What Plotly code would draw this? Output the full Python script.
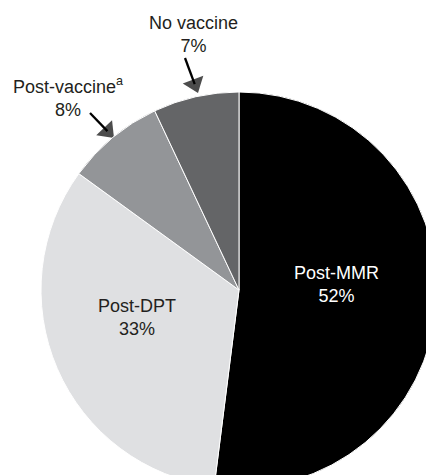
import math
import plotly.graph_objects as go

# ---- data ----
categories = ["Post-MMR", "Post-DPT", "Post-vaccine", "No vaccine"]
label_text = ["Post-MMR", "Post-DPT", "Post-vaccine<sup>a</sup>", "No vaccine"]
percentages = [52, 33, 8, 7]

colors = ["#000000", "#dfe0e2", "#939598", "#646567"]

W, H = 460, 500
CX, CY, R = 239, 290, 198

def px(x):
    return x / W

def py(y):
    return 1 - y / H

fig = go.Figure()
fig.add_trace(
    go.Pie(
        labels=categories,
        values=percentages,
        sort=False,
        direction="clockwise",
        rotation=0,
        marker=dict(colors=colors, line=dict(color="#ffffff", width=1)),
        textinfo="none",
        hoverinfo="label+percent",
        showlegend=False,
        domain=dict(x=[(CX - R) / W, (CX + R) / W], y=[(H - CY - R) / H, (H - CY + R) / H]),
    )
)

# pointer arrows (tail -> tip), in layout pixel space
arrow_tails = [(90, 113), (185, 58)]
arrow_tips = [(114, 138), (198, 93)]
HEAD = 19  # triangle marker size
for (tx, ty), (hx, hy) in zip(arrow_tails, arrow_tips):
    d = math.hypot(hx - tx, hy - ty)
    ux, uy = (hx - tx) / d, (hy - ty) / d
    off = HEAD / 2
    mx, my = hx - ux * off, hy - uy * off
    fig.add_trace(go.Scatter(
        x=[tx, mx], y=[ty, my], mode="lines+markers",
        line=dict(color="#000000", width=2.3),
        marker=dict(symbol=["circle", "triangle-up"], size=[0, HEAD], color="#000000",
                    angleref="previous", line=dict(width=0)),
        hoverinfo="skip", showlegend=False, cliponaxis=False,
    ))

font_family = "Liberation Sans, Arial, Helvetica, sans-serif"
FS = 18

# label positions (pixel centers) and colours
label_pos = [(336, 284), (137, 317), (68, 97), (193, 34)]
label_col = ["#ffffff", "#231f20", "#231f20", "#231f20"]

annotations = []
for txt, pct, (lx, ly), col in zip(label_text, percentages, label_pos, label_col):
    annotations.append(dict(
        x=px(lx), y=py(ly), xref="paper", yref="paper",
        text=f"{txt}<br>{pct}%", showarrow=False,
        xanchor="center", yanchor="middle",
        font=dict(family=font_family, size=FS, color=col),
    ))

fig.update_layout(
    width=W, height=H, autosize=False,
    margin=dict(l=0, r=0, t=0, b=0),
    paper_bgcolor="#ffffff", plot_bgcolor="rgba(0,0,0,0)",
    xaxis=dict(range=[0, W], visible=False, fixedrange=True, domain=[0, 1]),
    yaxis=dict(range=[H, 0], visible=False, fixedrange=True, domain=[0, 1]),
    annotations=annotations,
)

fig.write_html(
    "out.html",
    config={"displayModeBar": False},
    post_script="document.body.style.margin='0px';document.body.style.overflow='hidden';",
)
